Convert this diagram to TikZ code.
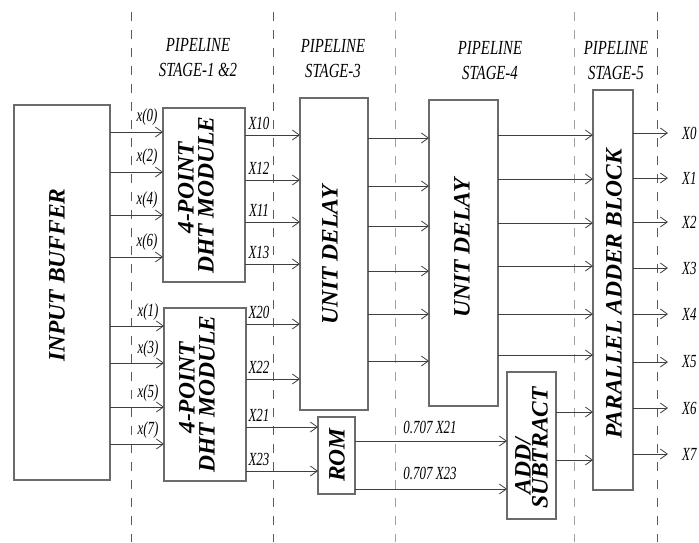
\documentclass[tikz,border=0pt]{standalone}
\usepackage{fontspec}
\setmainfont{Liberation Serif}
\newfontfamily\condf[FakeStretch=0.74]{Liberation Serif}
\newfontfamily\condl[FakeStretch=0.70]{Liberation Serif}
\usetikzlibrary{arrows.meta}
\definecolor{boxc}{HTML}{6B6B6B}
\definecolor{linec}{HTML}{3F3F3F}
\definecolor{dashd}{HTML}{5A5A5A}
\definecolor{dashl}{HTML}{A0A0A0}
\tikzset{
  box/.style={draw=boxc, line width=1.1pt, inner sep=0pt, outer sep=0pt, anchor=north west, fill=white},
  arr/.style={draw=linec, line width=0.9pt, -{Straight Barb[length=7pt,width=10pt,line width=0.8pt]}},
  dashline/.style={line width=1pt, dash pattern=on 9pt off 9pt},
  hdr/.style={font=\condf\itshape\fontsize{20}{25}\selectfont, align=center, inner sep=0pt},
  lbl/.style={font=\condl\itshape\fontsize{18.5}{20}\selectfont, inner sep=0pt},
  big/.style={font=\bfseries\itshape\fontsize{23.5}{26}\selectfont, rotate=90, inner sep=0pt}
}
\begin{document}
\begin{tikzpicture}[x=1pt,y=-1pt]
\useasboundingbox (0,0) rectangle (699,542);
% dashed stage separators
\draw[dashline, draw=dashd] (131,12) -- (131,542);
\draw[dashline, draw=dashd] (273,12) -- (273,542);
\draw[dashline, draw=dashl] (395,12) -- (395,542);
\draw[dashline, draw=dashl] (574,12) -- (574,542);
\draw[dashline, draw=dashd] (657,12) -- (657,542);
% headers
\node[hdr] (h12) at (198,57.5) {PIPELINE\\STAGE-1 \&2};
\node[hdr] (h3) at (333,59) {PIPELINE\\STAGE-3};
\node[hdr] (h4) at (490,61) {PIPELINE\\STAGE-4};
\node[hdr] (h5) at (616,61) {PIPELINE\\STAGE-5};
% boxes
\node[box, minimum width=96pt, minimum height=375pt] (inbuf) at (14,105) {};
\node[box, minimum width=82pt, minimum height=174pt] (dht1) at (163,108) {};
\node[box, minimum width=82pt, minimum height=173pt] (dht2) at (164,308) {};
\node[box, minimum width=68pt, minimum height=312pt] (ud1) at (300,98) {};
\node[box, minimum width=37pt, minimum height=77pt] (rom) at (318,417) {};
\node[box, minimum width=69pt, minimum height=306pt] (ud2) at (429,100) {};
\node[box, minimum width=49pt, minimum height=147pt] (addsub) at (507,372) {};
\node[box, minimum width=40pt, minimum height=400pt] (adder) at (593,90) {};
% box texts
\node[big] (tinbuf) at (57,275) {INPUT BUFFER};
\node[big] (tdht1a) at (186,188) {4-POINT};
\node[big] (tdht1b) at (206,195) {DHT MODULE};
\node[big] (tdht2a) at (187,388) {4-POINT};
\node[big] (tdht2b) at (207,394) {DHT MODULE};
\node[big] (tud1) at (330,255) {UNIT DELAY};
\node[big] (tud2) at (462,248) {UNIT DELAY};
\node[big] (trom) at (337,455) {ROM};
\node[big] (tadd) at (523,466) {ADD/};
\node[big] (tsub) at (540,448) {SUBTRACT};
\node[big] (tadder) at (614,294) {PARALLEL ADDER BLOCK};
% input buffer -> DHT modules
\foreach \y/\t [count=\i] in {132/{x(0)},172/{x(2)},215/{x(4)},257/{x(6)}}{
  \draw[arr] (inbuf.east |- 0,\y) -- (dht1.west |- 0,\y);
  \node[lbl] (lxa\i) at (147,\y-15) {\t};
}
\foreach \y/\t [count=\i] in {326/{x(1)},363/{x(3)},407/{x(5)},444/{x(7)}}{
  \draw[arr] (inbuf.east |- 0,\y) -- (dht2.west |- 0,\y);
  \node[lbl] (lxb\i) at (148,\y-14) {\t};
}
% DHT outputs
\foreach \y/\t [count=\i] in {135/X10,180/X12,222/X11,264/X13}{
  \draw[arr] (dht1.east |- 0,\y) -- (ud1.west |- 0,\y);
  \node[lbl] (lya\i) at (259,\y-12) {\t};
}
\foreach \y/\t [count=\i] in {324/X20,379/X22}{
  \draw[arr] (dht2.east |- 0,\y) -- (ud1.west |- 0,\y);
  \node[lbl] (lyb\i) at (259,\y-12) {\t};
}
\foreach \y/\t [count=\i] in {427/X21,471/X23}{
  \draw[arr] (dht2.east |- 0,\y) -- (rom.west |- 0,\y);
  \node[lbl] (lyc\i) at (259,\y-12) {\t};
}
% unit delay 1 -> unit delay 2
\foreach \y in {138,186,226,271,314,361}
  \draw[arr] (ud1.east |- 0,\y) -- (ud2.west |- 0,\y);
% unit delay 2 -> adder
\foreach \y in {135,179,223,266,314,355}
  \draw[arr] (ud2.east |- 0,\y) -- (adder.west |- 0,\y);
% ROM -> add/subtract
\draw[arr] (rom.east |- 0,441) -- (addsub.west |- 0,441);
\draw[arr] (rom.east |- 0,489) -- (addsub.west |- 0,489);
\node[lbl] (l21) at (430,427) {0.707 X21};
\node[lbl] (l23) at (430,473) {0.707 X23};
% add/subtract -> adder
\draw[arr] (addsub.east |- 0,412) -- (adder.west |- 0,412);
\draw[arr] (addsub.east |- 0,460) -- (adder.west |- 0,460);
% outputs
\foreach \y/\t [count=\i] in {133/X0,178/X1,222/X2,268/X3,314/X4,362/X5,408/X6,454/X7}{
  \coordinate (o\i) at (668,\y);
  \draw[arr] (adder.east |- o\i) -- (o\i);
  \node[lbl, anchor=west] (lo\i) at (682,\y) {\t};
}
\end{tikzpicture}
\end{document}
